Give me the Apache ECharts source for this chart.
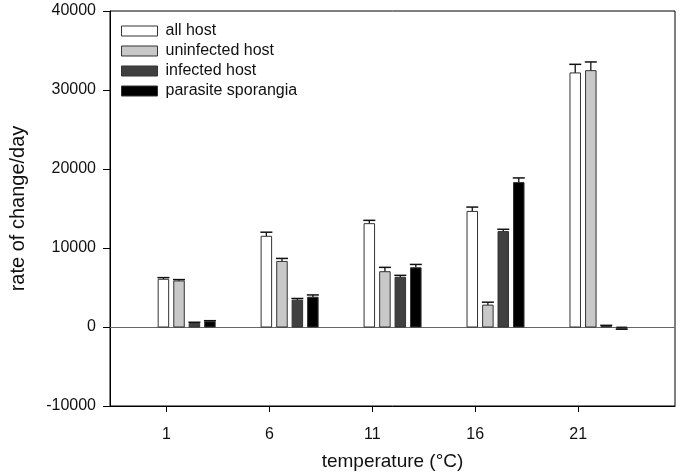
<!DOCTYPE html>
<html>
<head>
<meta charset="utf-8">
<script src="https://cdn.jsdelivr.net/npm/echarts@6/dist/echarts.min.js"></script>
<style>
html,body{margin:0;padding:0;background:#fff;}
#chart{width:681px;height:476px;}
</style>
</head>
<body>
<div id="chart"></div>
<script>
// ---- data ----
var temperatures = [1, 6, 11, 16, 21];
var seriesNames = ['all host', 'uninfected host', 'infected host', 'parasite sporangia'];
var allHost = [6040, 11480, 13080, 14630, 32160];
var allHostErr = [210, 520, 420, 550, 1090];
var uninfectedHost = [5830, 8300, 7000, 2770, 32450];
var uninfectedHostErr = [170, 380, 550, 370, 1100];
var infectedHost = [450, 3400, 6290, 12080, 60];
var infectedHostErr = [150, 210, 250, 290, 150];
var parasiteSporangia = [680, 3770, 7500, 18280, -180];
var parasiteSporangiaErr = [120, 290, 420, 590, 100];
var xTickValues = [1, 6, 11, 16, 21];
var yTicks = [-10000, 0, 10000, 20000, 30000, 40000];

// ---- styling / layout ----
var FONT = '"Liberation Sans", Arial, sans-serif';
var fills = ['#ffffff', '#c8c8c8', '#404040', '#000000'];
var pxOffsets = [-3, 12.6, 28, 43.5];
var barW = 10.5;
var capW = 12;

var values = [allHost, uninfectedHost, infectedHost, parasiteSporangia];
var errors = [allHostErr, uninfectedHostErr, infectedHostErr, parasiteSporangiaErr];

function makeSeries(si) {
  var data = temperatures.map(function (t, i) {
    return [t, values[si][i], errors[si][i]];
  });
  var s = {
    name: seriesNames[si],
    type: 'custom',
    data: data,
    itemStyle: { color: fills[si], borderColor: '#333', borderWidth: 1 },
    encode: { x: 0, y: 1 },
    renderItem: function (params, api) {
      var t = api.value(0), v = api.value(1), e = api.value(2);
      var base = api.coord([t, 0]);
      var top = api.coord([t, v]);
      var cx = base[0] + pxOffsets[si];
      var errEnd = api.coord([t, v + (v >= 0 ? e : -e)]);
      var y0 = Math.min(base[1], top[1]);
      var h = Math.abs(base[1] - top[1]);
      return {
        type: 'group',
        children: [
          {
            type: 'line',
            shape: { x1: cx, y1: top[1], x2: cx, y2: errEnd[1] },
            style: { stroke: '#111', lineWidth: 1.3 }
          },
          {
            type: 'line',
            shape: { x1: cx - capW / 2, y1: errEnd[1], x2: cx + capW / 2, y2: errEnd[1] },
            style: { stroke: '#111', lineWidth: 1.5 }
          },
          {
            type: 'rect',
            shape: { x: cx - barW / 2, y: y0, width: barW, height: Math.max(h, 0.5) },
            style: { fill: fills[si], stroke: '#333', lineWidth: 1 }
          }
        ]
      };
    }
  };
  if (si === 0) {
    s.markLine = {
      silent: true,
      symbol: 'none',
      label: { show: false },
      lineStyle: { color: '#666', type: 'solid', width: 1.2 },
      data: [{ yAxis: 0 }],
      z: 1
    };
  }
  return s;
}

var chart = echarts.init(document.getElementById('chart'), null, { renderer: 'canvas' });
chart.setOption({
  animation: false,
  backgroundColor: '#fff',
  textStyle: { fontFamily: FONT },
  grid: {
    left: 110, right: 6, top: 11, bottom: 68,
    show: true, borderColor: '#000', borderWidth: 1, backgroundColor: 'transparent'
  },
  legend: {
    orient: 'vertical',
    left: 121, top: 21,
    padding: 0,
    itemWidth: 36, itemHeight: 10, itemGap: 0,
    icon: 'rect',
    textStyle: { fontFamily: FONT, fontSize: 16, color: '#111', lineHeight: 20, padding: [0, 0, 0, 3] },
    data: seriesNames.map(function (n, i) {
      return { name: n, icon: 'rect', itemStyle: { color: fills[i], borderColor: '#333', borderWidth: 1 } };
    })
  },
  xAxis: {
    type: 'value',
    min: -1.74, max: 25.7,
    name: 'temperature (°C)',
    nameLocation: 'middle',
    nameGap: 46,
    nameTextStyle: { fontFamily: FONT, fontSize: 19, color: '#111' },
    axisLine: { show: true, onZero: false, lineStyle: { color: '#000', width: 1 } },
    axisTick: { show: true, inside: false, length: 6, lineStyle: { color: '#000' }, customValues: xTickValues },
    axisLabel: { fontFamily: FONT, fontSize: 16, color: '#111', margin: 21, customValues: xTickValues },
    splitLine: { show: false }
  },
  yAxis: {
    type: 'value',
    min: yTicks[0], max: yTicks[yTicks.length - 1], interval: 10000,
    name: 'rate of change/day',
    nameLocation: 'middle',
    nameGap: 82,
    nameTextStyle: { fontFamily: FONT, fontSize: 20, color: '#111' },
    axisLine: { show: true, onZero: false, lineStyle: { color: '#000', width: 1 } },
    axisTick: { show: true, inside: false, length: 7, lineStyle: { color: '#000' } },
    axisLabel: { fontFamily: FONT, fontSize: 16, color: '#111', margin: 14,
      formatter: function (v) { return String(v); } },
    splitLine: { show: false }
  },
  series: [0, 1, 2, 3].map(makeSeries)
});
</script>
</body>
</html>
